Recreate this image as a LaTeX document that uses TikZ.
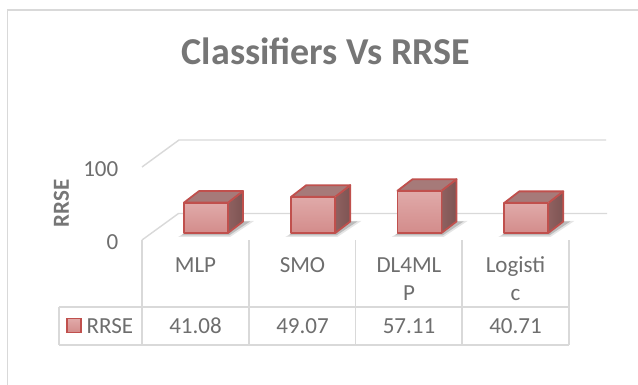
\documentclass[tikz,border=0pt]{standalone}
\usepackage{fontspec}
\setmainfont{Carlito}
\definecolor{gridc}{RGB}{217,217,217}
\definecolor{titlec}{RGB}{118,118,118}
\definecolor{labc}{RGB}{110,110,110}
\definecolor{barred}{RGB}{192,80,77}
\definecolor{fronttop}{RGB}{224,170,169}
\definecolor{frontbot}{RGB}{211,140,139}
\definecolor{topc}{RGB}{166,122,121}
\definecolor{sidel}{RGB}{143,97,96}
\definecolor{sider}{RGB}{125,84,83}
\tikzset{
  gridline/.style={draw=gridc, line width=1.4pt},
  barline/.style={draw=barred, line width=1.8pt, line join=round},
  lab/.style={text=labc, font=\fontsize{23}{29}\selectfont, inner sep=0pt},
}
\newcommand\drawbarbox[2]{%
  \pgfmathsetmacro\yt{233-0.74*#2}%
  \pgfmathsetmacro\ytb{\yt-11.5}%
  % shadow
  \fill[black, opacity=0.10] (#1-6,237) -- (#1+46,237) -- (#1+70,221) -- (#1+20,221) -- cycle;
  \fill[black, opacity=0.18] (#1-3,235.5) -- (#1+45,235.5) -- (#1+66,221.5) -- (#1+18,221.5) -- cycle;
  % side face
  \shade[left color=sidel, right color=sider] (#1+44,\yt) -- (#1+59,\ytb) -- (#1+59,221.5) -- (#1+44,233) -- cycle;
  \draw[barline] (#1+44,\yt) -- (#1+59,\ytb) -- (#1+59,221.5) -- (#1+44,233) -- cycle;
  % top face
  \fill[topc] (#1,\yt) -- (#1+15,\ytb) -- (#1+59,\ytb) -- (#1+44,\yt) -- cycle;
  \draw[barline] (#1,\yt) -- (#1+15,\ytb) -- (#1+59,\ytb) -- (#1+44,\yt) -- cycle;
  % front face
  \shade[top color=fronttop, bottom color=frontbot] (#1,\yt) rectangle (#1+44,233);
  \draw[barline] (#1,\yt) rectangle (#1+44,233);
}
\begin{document}
\begin{tikzpicture}[x=1pt,y=-1pt]
\useasboundingbox (0,0) rectangle (638,385);
\fill[white] (0,0) rectangle (638,385);
% outer frame
\draw[gridline] (7.3,385) -- (7.3,10) -- (638,10);
% title
\node[anchor=base, text=titlec, font=\fontsize{38}{44}\selectfont\bfseries, inner sep=0pt] (title) at (326,65) {Classifiers Vs RRSE};
% axis title
\node[rotate=90, text=titlec, font=\fontsize{23}{28}\selectfont\bfseries, inner sep=0pt] (ytitle) at (61.5,203.5) {RRSE};
% tick labels
\node[lab, anchor=base east] (t100) at (118.5,176.5) {100};
\node[lab, anchor=base east] (t0) at (118.5,250) {0};
% gridlines
\coordinate (g100a) at (142,167);
\coordinate (g100b) at (179,140);
\coordinate (g100c) at (606,140);
\coordinate (g0a) at (142,240);
\coordinate (g0b) at (178.5,213.5);
\coordinate (g0c) at (607,213.5);
\draw[gridline] (g100a) -- (g100b) -- (g100c);
\draw[gridline] (g0a) -- (g0b) -- (g0c);
% data table
\foreach \x in {142,249,355.7,462,569} {\draw[gridline] (\x,240.5) -- (\x,345);}
\draw[gridline] (59,307) -- (569,307);
\draw[gridline] (59,345) -- (569,345);
\draw[gridline] (59,307) -- (59,345);
% bars
\drawbarbox{184}{41.08}
\drawbarbox{291.3}{49.07}
\drawbarbox{397.5}{57.11}
\drawbarbox{504.3}{40.71}
% category labels
\node[lab, anchor=base] (cMLP) at (195.5,272.5) {MLP};
\node[lab, anchor=base] (cSMO) at (302.5,272.5) {SMO};
\node[lab, anchor=base] (cDLa) at (409,272.5) {DL4ML};
\node[lab, anchor=base] (cDLb) at (409,300.5) {P};
\node[lab, anchor=base] (cLGa) at (515.5,272.5) {Logisti};
\node[lab, anchor=base] (cLGb) at (515.5,300.5) {c};
% values
\node[lab, anchor=base] (v1) at (195.5,333) {41.08};
\node[lab, anchor=base] (v2) at (302.5,333) {49.07};
\node[lab, anchor=base] (v3) at (409,333) {57.11};
\node[lab, anchor=base] (v4) at (515.5,333) {40.71};
% legend key
\shade[top color=fronttop, bottom color=frontbot] (67,318.5) rectangle (81,332.5);
\draw[draw=barred, line width=1.5pt] (67,318.5) rectangle (81,332.5);
\node[lab, anchor=base west] (legRRSE) at (86.5,333) {RRSE};
\end{tikzpicture}
\end{document}
